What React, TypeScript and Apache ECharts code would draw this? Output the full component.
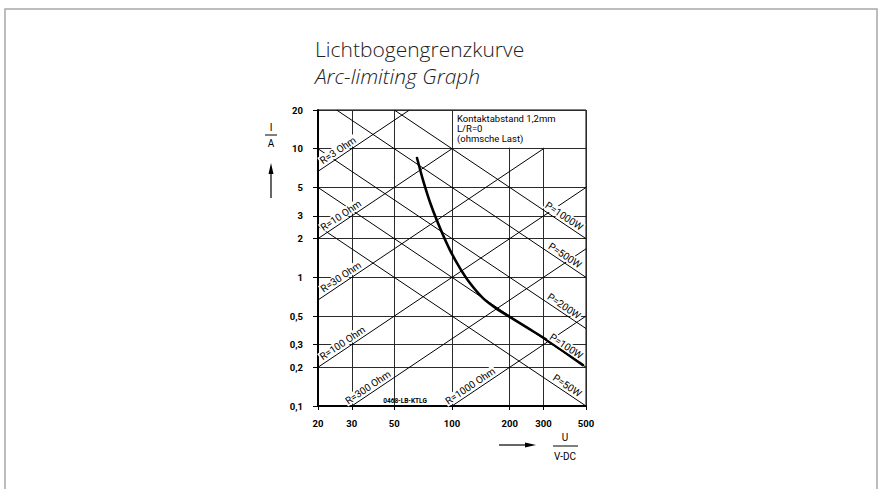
import React, { useEffect, useRef } from 'react';
import * as echarts from 'echarts';

// ---- data ----
const xTicks = [20, 30, 50, 100, 200, 300, 500];
const yTicks = [0.1, 0.2, 0.3, 0.5, 1, 2, 3, 5, 10, 20];

const rNames = ['R=3 Ohm', 'R=10 Ohm', 'R=30 Ohm', 'R=100 Ohm', 'R=300 Ohm', 'R=1000 Ohm'];
const rLines = [
  [[20, 6.67], [60, 20]],
  [[20, 2], [100, 10]],
  [[20, 0.667], [300, 10]],
  [[20, 0.2], [500, 5]],
  [[30, 0.1], [500, 1.667]],
  [[100, 0.1], [500, 0.5]],
];
const rLabelAt = [[26.5, 8.83], [27.5, 2.75], [27.5, 0.917], [28, 0.28], [38, 0.1267], [130, 0.13]];

const pNames = ['P=1000W', 'P=500W', 'P=200W', 'P=100W', 'P=50W'];
const pLines = [
  [[50, 20], [500, 2]],
  [[25, 20], [500, 1]],
  [[20, 10], [500, 0.4]],
  [[20, 5], [500, 0.2]],
  [[20, 2.5], [500, 0.1]],
];
const pLabelAt = [[368, 2.72], [372, 1.344], [368, 0.543], [378, 0.265], [382, 0.131]];

const curveU = [65.7, 70.6, 77.7, 86.6, 97.6, 110, 124, 145, 172, 201, 249, 313, 400, 482];
const curveI = [8.47, 5.71, 3.65, 2.42, 1.63, 1.18, 0.903, 0.69, 0.567, 0.491, 0.403, 0.3255, 0.253, 0.208];

const noteLines = ['Kontaktabstand 1,2mm', 'L/R=0', '(ohmsche Last)'];
const noteBox = [[100, 20], [500, 10]];

const FONT = 'Roboto, "Liberation Sans Narrow", "DejaVu Sans Condensed", sans-serif';

export default function App() {
  const ref = useRef<HTMLDivElement>(null);

  useEffect(() => {
    const el = ref.current;
    if (!el) return;
    const chart = echarts.init(el, null, { renderer: 'svg' });

    const lineSeries = (name: string, data: number[][], width: number) => ({
      type: 'line',
      name,
      data,
      symbol: 'none',
      silent: true,
      lineStyle: { color: '#000', width },
      z: 2,
    });

    const series: any[] = [
      ...rLines.map((d, i) => lineSeries(rNames[i], d, 1)),
      ...pLines.map((d, i) => lineSeries(pNames[i], d, 1)),
      {
        type: 'line',
        name: 'Grenzkurve',
        data: curveU.map((u, i) => [u, curveI[i]]),
        symbol: 'none',
        smooth: 0.3,
        silent: true,
        lineStyle: { color: '#000', width: 2.6, cap: 'round', join: 'round' },
        z: 3,
      },
    ];

    const fmt = (v: number) => String(+Number(v).toPrecision(6)).replace('.', ',');

    chart.setOption({
      animation: false,
      backgroundColor: '#fff',
      grid: {
        left: 318,
        top: 110,
        width: 268,
        height: 296,
        show: true,
        borderColor: '#000',
        borderWidth: 1,
        backgroundColor: 'transparent',
      },
      xAxis: {
        type: 'log',
        logBase: 10,
        min: 20,
        max: 500,
        axisLine: { show: true, lineStyle: { color: '#000', width: 2 } },
        axisTick: { show: true, customValues: xTicks, length: 4, lineStyle: { color: '#000', width: 1 } },
        axisLabel: {
          customValues: xTicks,
          margin: 12,
          fontSize: 9.5,
          fontWeight: 'bold',
          fontFamily: FONT,
          color: '#000',
          formatter: fmt,
        },
        splitLine: { show: true, lineStyle: { color: '#2a2a2a', width: 1 } },
      },
      yAxis: {
        type: 'log',
        logBase: 10,
        min: 0.1,
        max: 20,
        axisLine: { show: true, lineStyle: { color: '#000', width: 2 } },
        axisTick: { show: true, customValues: yTicks, length: 5, lineStyle: { color: '#000', width: 1 } },
        axisLabel: {
          customValues: yTicks,
          margin: 15,
          fontSize: 9.5,
          fontWeight: 'bold',
          fontFamily: FONT,
          color: '#000',
          formatter: fmt,
        },
        splitLine: { show: true, lineStyle: { color: '#2a2a2a', width: 1 } },
      },
      series,
    });

    const px = (p: number[]) => chart.convertToPixel({ gridIndex: 0 }, p) as number[];

    const lineLabel = (text: string, at: number[], seg: number[][]) => {
      const a = px(seg[0]);
      const b = px(seg[1]);
      const rot = -Math.atan2(b[1] - a[1], b[0] - a[0]);
      const p = px(at);
      return {
        type: 'text',
        x: p[0],
        y: p[1],
        rotation: rot,
        z: 20,
        silent: true,
        style: {
          text,
          x: 0,
          y: -1.5,
          align: 'center',
          verticalAlign: 'bottom',
          textAlign: 'center',
          textVerticalAlign: 'bottom',
          font: `10px ${FONT}`,
          fill: '#000',
          backgroundColor: '#fff',
          padding: [0, 1, 0, 1],
        },
      };
    };

    const b0 = px(noteBox[0]);
    const b1 = px(noteBox[1]);

    const txt = (text: string, x: number, y: number, font: string, align = 'center', extra: any = {}) => ({
      type: 'text',
      x,
      y,
      z: 20,
      silent: true,
      style: {
        text,
        align,
        textAlign: align,
        verticalAlign: 'middle',
        textVerticalAlign: 'middle',
        font,
        fill: '#000',
        ...extra,
      },
    });

    const graphic: any[] = [
      // outer frame
      {
        type: 'rect',
        z: 0,
        silent: true,
        shape: { x: 5, y: 9, width: 872, height: 500 },
        style: { fill: 'none', stroke: '#a8a8a8', lineWidth: 1.5 },
      },
      // title
      txt('Lichtbogengrenzkurve', 315, 49, `300 21px "Open Sans", "Noto Sans", sans-serif`, 'left', { fill: '#222', lineHeight: 22 }),
      txt('Arc-limiting Graph', 315, 76, `italic 300 21px "Open Sans", "Noto Sans", sans-serif`, 'left', { fill: '#222', lineHeight: 22 }),
      // note box (white cell)
      {
        type: 'rect',
        z: 15,
        silent: true,
        shape: { x: b0[0] + 1, y: b0[1] + 1, width: b1[0] - b0[0] - 2, height: b1[1] - b0[1] - 2 },
        style: { fill: '#fff', stroke: 'none' },
      },
      ...noteLines.map((t, i) => txt(t, b0[0] + 5, b0[1] + 8 + i * 10, `9.5px ${FONT}`, 'left', { lineHeight: 10 })),
      // curve labels
      ...rNames.map((t, i) => lineLabel(t, rLabelAt[i], rLines[i])),
      ...pNames.map((t, i) => lineLabel(t, pLabelAt[i], pLines[i])),
      // drawing number
      txt('0468-LB-KTLG', 405, 401, `bold 6.5px ${FONT}`, 'center', { lineHeight: 7 }),
      // y axis name
      txt('I', 271, 127, `10px ${FONT}`, 'center', { lineHeight: 10 }),
      { type: 'line', z: 20, silent: true, shape: { x1: 265, y1: 135, x2: 277, y2: 135 }, style: { stroke: '#000', lineWidth: 1 } },
      txt('A', 271, 143, `10px ${FONT}`, 'center', { lineHeight: 10 }),
      { type: 'line', z: 20, silent: true, shape: { x1: 271, y1: 198, x2: 271, y2: 172 }, style: { stroke: '#000', lineWidth: 1.2 } },
      { type: 'polygon', z: 20, silent: true, shape: { points: [[271, 163], [268.5, 174], [273.5, 174]] }, style: { fill: '#000' } },
      // x axis name
      { type: 'line', z: 20, silent: true, shape: { x1: 499, y1: 445, x2: 526, y2: 445 }, style: { stroke: '#000', lineWidth: 1.2 } },
      { type: 'polygon', z: 20, silent: true, shape: { points: [[536, 445], [525, 442.5], [525, 447.5]] }, style: { fill: '#000' } },
      txt('U', 565, 437, `10px ${FONT}`, 'center', { lineHeight: 10 }),
      { type: 'line', z: 20, silent: true, shape: { x1: 553, y1: 446, x2: 578, y2: 446 }, style: { stroke: '#000', lineWidth: 1 } },
      txt('V-DC', 565, 456, `10px ${FONT}`, 'center', { lineHeight: 10 }),
    ];

    chart.setOption({ graphic });

    return () => chart.dispose();
  }, []);

  return (
    <div
      ref={ref}
      style={{ position: 'fixed', left: 0, top: 0, width: 882, height: 489, background: '#fff' }}
    />
  );
}
